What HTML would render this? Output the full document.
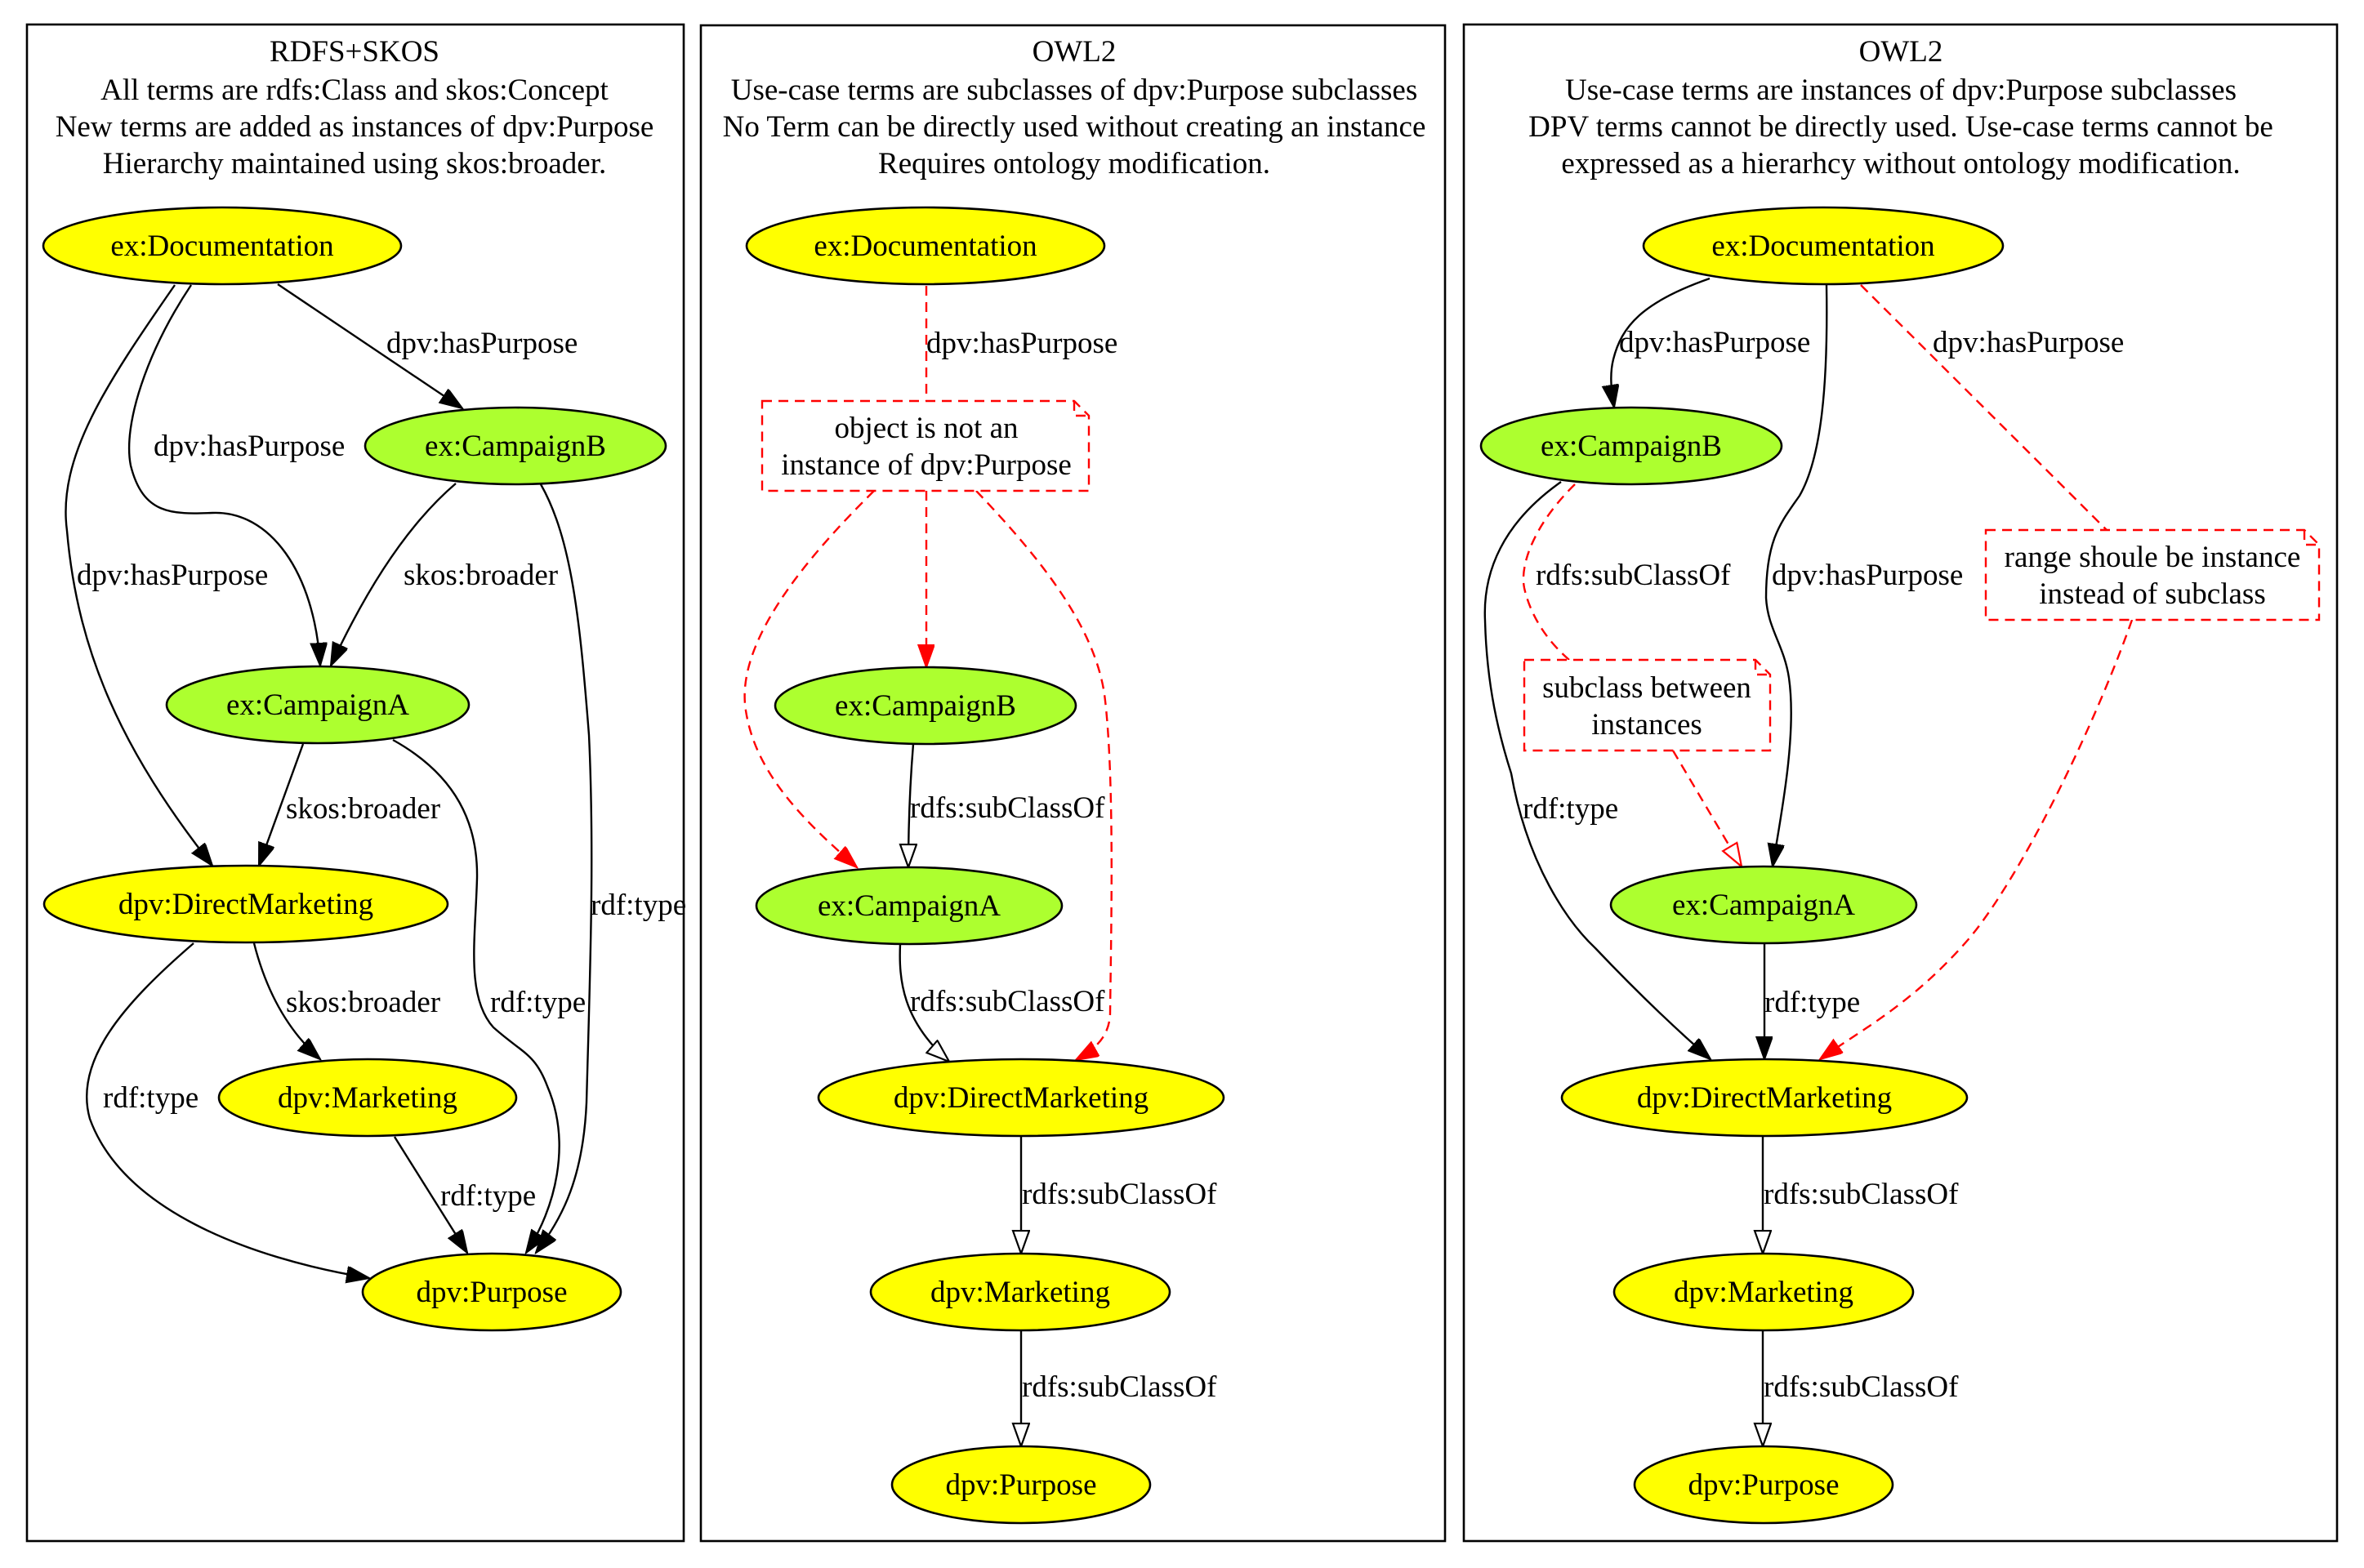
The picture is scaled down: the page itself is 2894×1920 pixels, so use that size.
<!DOCTYPE html>
<html><head><meta charset="utf-8"><style>
html,body{margin:0;padding:0;background:#fff;}
svg{display:block;}
text{font-family:"Liberation Serif",serif;font-size:37px;fill:#000;}
.t{text-anchor:middle;}
.e{fill:none;stroke:#000;stroke-width:2.4;}
.r{fill:none;stroke:#f00;stroke-width:2.4;stroke-dasharray:12,8;}
.n{stroke:#000;stroke-width:2.6;}
.y{fill:#ffff00;}
.g{fill:#adff2f;}
.note{fill:#fff;stroke:#f00;stroke-width:2.4;stroke-dasharray:12,8;}
</style></head><body>
<svg width="2894" height="1920" viewBox="0 0 2894 1920" xmlns="http://www.w3.org/2000/svg">
<defs>
<marker id="ab" markerUnits="userSpaceOnUse" markerWidth="30" markerHeight="22" refX="28" refY="10" orient="auto"><path d="M0,0 L28,10 L0,20 z" fill="#000" stroke="#000" stroke-width="2"/></marker>
<marker id="ar" markerUnits="userSpaceOnUse" markerWidth="30" markerHeight="22" refX="28" refY="10" orient="auto"><path d="M0,0 L28,10 L0,20 z" fill="#f00" stroke="#f00" stroke-width="2"/></marker>
<marker id="hb" markerUnits="userSpaceOnUse" markerWidth="32" markerHeight="24" refX="29" refY="11" orient="auto"><path d="M1,1 L29,11 L1,21 z" fill="#fff" stroke="#000" stroke-width="2.2"/></marker>
<marker id="hr" markerUnits="userSpaceOnUse" markerWidth="32" markerHeight="24" refX="29" refY="11" orient="auto"><path d="M1,1 L29,11 L1,21 z" fill="#fff" stroke="#f00" stroke-width="2.2"/></marker>
</defs>
<rect width="2894" height="1920" fill="#fff"/>

<!-- Panels -->
<rect x="33" y="30" width="804" height="1857" fill="none" stroke="#000" stroke-width="2.6"/>
<rect x="858" y="31" width="911" height="1856" fill="none" stroke="#000" stroke-width="2.6"/>
<rect x="1792" y="30" width="1069" height="1857" fill="none" stroke="#000" stroke-width="2.6"/>

<!-- Panel 1 titles -->
<text class="t" x="434" y="75">RDFS+SKOS</text>
<text class="t" x="434" y="122">All terms are rdfs:Class and skos:Concept</text>
<text class="t" x="434" y="167">New terms are added as instances of dpv:Purpose</text>
<text class="t" x="434" y="212">Hierarchy maintained using skos:broader.</text>

<!-- Panel 1 edges -->
<path class="e" d="M340,348 L566,500" marker-end="url(#ab)"/>
<path class="e" d="M234,349 C180,430 150,520 160,570 C175,630 210,630 260,628 C330,625 385,700 392,815" marker-end="url(#ab)"/>
<path class="e" d="M214,349 C130,470 70,560 82,650 C95,800 150,920 260,1060" marker-end="url(#ab)"/>
<path class="e" d="M558,592 C490,650 440,740 405,815" marker-end="url(#ab)"/>
<path class="e" d="M662,593 C700,660 710,760 721,900 C728,1050 722,1200 718,1350 C714,1440 690,1490 656,1534" marker-end="url(#ab)"/>
<path class="e" d="M371,911 L317,1060" marker-end="url(#ab)"/>
<path class="e" d="M481,906 C560,950 585,1010 584,1075 C582,1150 570,1220 604,1258 C640,1290 655,1290 670,1330 C700,1400 680,1480 644,1534" marker-end="url(#ab)"/>
<path class="e" d="M311,1155 C325,1210 350,1260 392,1297" marker-end="url(#ab)"/>
<path class="e" d="M237,1155 C150,1230 90,1300 110,1370 C150,1480 300,1540 452,1565" marker-end="url(#ab)"/>
<path class="e" d="M483,1392 L572,1534" marker-end="url(#ab)"/>

<!-- Panel 1 edge labels -->
<text x="473" y="432">dpv:hasPurpose</text>
<text x="188" y="558">dpv:hasPurpose</text>
<text x="94" y="716">dpv:hasPurpose</text>
<text x="494" y="716">skos:broader</text>
<text x="350" y="1002">skos:broader</text>
<text x="723" y="1120">rdf:type</text>
<text x="600" y="1239">rdf:type</text>
<text x="350" y="1239">skos:broader</text>
<text x="126" y="1356">rdf:type</text>
<text x="539" y="1476">rdf:type</text>

<!-- Panel 1 nodes -->
<ellipse class="n y" cx="272" cy="301" rx="219" ry="47"/><text class="t" x="272" y="313">ex:Documentation</text>
<ellipse class="n g" cx="631" cy="546" rx="184" ry="47"/><text class="t" x="631" y="558">ex:CampaignB</text>
<ellipse class="n g" cx="389" cy="863" rx="185" ry="47"/><text class="t" x="389" y="875">ex:CampaignA</text>
<ellipse class="n y" cx="301" cy="1107" rx="247" ry="47"/><text class="t" x="301" y="1119">dpv:DirectMarketing</text>
<ellipse class="n y" cx="450" cy="1344" rx="182" ry="47"/><text class="t" x="450" y="1356">dpv:Marketing</text>
<ellipse class="n y" cx="602" cy="1582" rx="158" ry="47"/><text class="t" x="602" y="1594">dpv:Purpose</text>

<!-- Panel 2 titles -->
<text class="t" x="1315" y="75">OWL2</text>
<text class="t" x="1315" y="122">Use-case terms are subclasses of dpv:Purpose subclasses</text>
<text class="t" x="1315" y="167">No Term can be directly used without creating an instance</text>
<text class="t" x="1315" y="212">Requires ontology modification.</text>

<!-- Panel 2 edges -->
<path class="r" d="M1134,350 L1134,491"/>
<path class="r" d="M1134,601 L1134,817" marker-end="url(#ar)"/>
<path class="r" d="M1070,601 C980,690 900,790 913,870 C925,950 990,1010 1049,1062" marker-end="url(#ar)"/>
<path class="r" d="M1195,601 C1280,690 1340,770 1352,850 C1365,950 1360,1150 1359,1241 C1358,1270 1340,1285 1317,1298" marker-end="url(#ar)"/>
<path class="e" d="M1118,911 C1114,960 1112,1010 1112,1062" marker-end="url(#hb)"/>
<path class="e" d="M1102,1156 C1100,1200 1105,1250 1162,1300" marker-end="url(#hb)"/>
<path class="e" d="M1250,1391 L1250,1535" marker-end="url(#hb)"/>
<path class="e" d="M1250,1629 L1250,1771" marker-end="url(#hb)"/>

<text x="1134" y="432">dpv:hasPurpose</text>
<text x="1114" y="1001">rdfs:subClassOf</text>
<text x="1114" y="1238">rdfs:subClassOf</text>
<text x="1251" y="1474">rdfs:subClassOf</text>
<text x="1251" y="1710">rdfs:subClassOf</text>

<!-- Panel 2 note -->
<path class="note" d="M933,491 L1315,491 L1333,509 L1333,601 L933,601 Z"/>
<path class="r" d="M1315,491 L1315,509 L1333,509"/>
<text class="t" x="1134" y="536">object is not an</text>
<text class="t" x="1134" y="581">instance of dpv:Purpose</text>

<!-- Panel 2 nodes -->
<ellipse class="n y" cx="1133" cy="301" rx="219" ry="47"/><text class="t" x="1133" y="313">ex:Documentation</text>
<ellipse class="n g" cx="1133" cy="864" rx="184" ry="47"/><text class="t" x="1133" y="876">ex:CampaignB</text>
<ellipse class="n g" cx="1113" cy="1109" rx="187" ry="47"/><text class="t" x="1113" y="1121">ex:CampaignA</text>
<ellipse class="n y" cx="1250" cy="1344" rx="248" ry="47"/><text class="t" x="1250" y="1356">dpv:DirectMarketing</text>
<ellipse class="n y" cx="1249" cy="1582" rx="183" ry="47"/><text class="t" x="1249" y="1594">dpv:Marketing</text>
<ellipse class="n y" cx="1250" cy="1818" rx="158" ry="47"/><text class="t" x="1250" y="1830">dpv:Purpose</text>

<!-- Panel 3 titles -->
<text class="t" x="2327" y="75">OWL2</text>
<text class="t" x="2327" y="122">Use-case terms are instances of dpv:Purpose subclasses</text>
<text class="t" x="2327" y="167">DPV terms cannot be directly used. Use-case terms cannot be</text>
<text class="t" x="2327" y="212">expressed as a hierarhcy without ontology modification.</text>

<!-- Panel 3 edges -->
<path class="e" d="M2093,341 C2010,370 1985,400 1975,440 C1970,460 1973,480 1976,499" marker-end="url(#ab)"/>
<path class="e" d="M2236,349 C2238,470 2230,560 2203,607 C2180,640 2162,660 2162,732 C2164,770 2184,790 2190,830 C2200,900 2180,1000 2170,1061" marker-end="url(#ab)"/>
<path class="r" d="M2278,349 L2579,649"/>
<path class="r" d="M2610,759 C2560,900 2470,1080 2409,1151 C2340,1230 2280,1260 2228,1297" marker-end="url(#ar)"/>
<path class="r" d="M1928,593 C1880,640 1860,690 1866,720 C1875,760 1900,790 1921,808"/>
<path class="r" d="M2048,919 L2132,1061" marker-end="url(#hr)"/>
<path class="e" d="M1911,590 C1840,640 1815,700 1818,760 C1820,840 1835,900 1850,947 C1870,1060 1920,1130 1953,1161 C1990,1200 2040,1250 2094,1297" marker-end="url(#ab)"/>
<path class="e" d="M2160,1155 L2160,1297" marker-end="url(#ab)"/>
<path class="e" d="M2158,1391 L2158,1535" marker-end="url(#hb)"/>
<path class="e" d="M2158,1629 L2158,1771" marker-end="url(#hb)"/>

<text x="1982" y="431">dpv:hasPurpose</text>
<text x="2366" y="431">dpv:hasPurpose</text>
<text x="2169" y="716">dpv:hasPurpose</text>
<text x="1880" y="716">rdfs:subClassOf</text>
<text x="1864" y="1002">rdf:type</text>
<text x="2160" y="1239">rdf:type</text>
<text x="2159" y="1474">rdfs:subClassOf</text>
<text x="2159" y="1710">rdfs:subClassOf</text>

<!-- Panel 3 notes -->
<path class="note" d="M2431,649 L2821,649 L2839,667 L2839,759 L2431,759 Z"/>
<path class="r" d="M2821,649 L2821,667 L2839,667"/>
<text class="t" x="2635" y="694">range shoule be instance</text>
<text class="t" x="2635" y="739">instead of subclass</text>

<path class="note" d="M1866,808 L2149,808 L2167,826 L2167,919 L1866,919 Z"/>
<path class="r" d="M2149,808 L2149,826 L2167,826"/>
<text class="t" x="2016" y="854">subclass between</text>
<text class="t" x="2016" y="899">instances</text>

<!-- Panel 3 nodes -->
<ellipse class="n y" cx="2232" cy="301" rx="220" ry="47"/><text class="t" x="2232" y="313">ex:Documentation</text>
<ellipse class="n g" cx="1997" cy="546" rx="184" ry="47"/><text class="t" x="1997" y="558">ex:CampaignB</text>
<ellipse class="n g" cx="2159" cy="1108" rx="187" ry="47"/><text class="t" x="2159" y="1120">ex:CampaignA</text>
<ellipse class="n y" cx="2160" cy="1344" rx="248" ry="47"/><text class="t" x="2160" y="1356">dpv:DirectMarketing</text>
<ellipse class="n y" cx="2159" cy="1582" rx="183" ry="47"/><text class="t" x="2159" y="1594">dpv:Marketing</text>
<ellipse class="n y" cx="2159" cy="1818" rx="158" ry="47"/><text class="t" x="2159" y="1830">dpv:Purpose</text>
</svg>
</body></html>
